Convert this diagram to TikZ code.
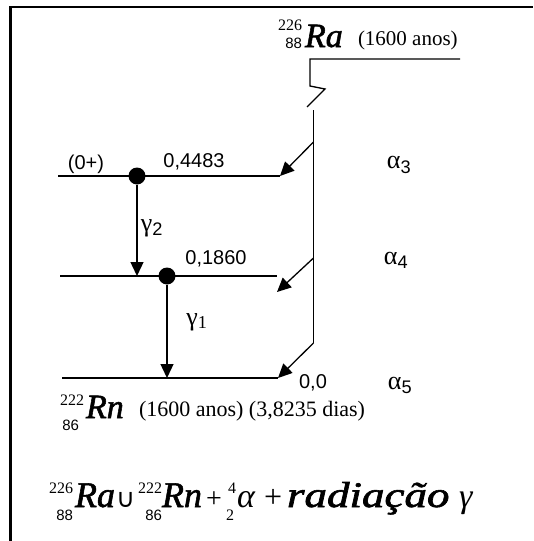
\documentclass[tikz,border=0pt]{standalone}
\usepackage{fontspec}
\setmainfont{Liberation Serif}
\newfontfamily\sansf{Liberation Sans}
\newfontfamily\djv{DejaVu Sans}
\newfontfamily\bif[ItalicFeatures={FakeBold=1.6}]{Liberation Serif}
\usetikzlibrary{arrows.meta}
\newcommand\fs[1]{\fontsize{#1}{#1}\selectfont}
\begin{document}
\begin{tikzpicture}[x=1pt,y=-1pt,
  ln/.style={line width=1.3pt},
  arr/.style={line width=1.3pt,-{Triangle[length=14pt,width=13pt]}},
  t/.style={inner sep=0pt,outer sep=0pt},
  sl/.style={t,font=\sansf\fs{20}},
  gr/.style={t,font=\fs{26}},
  big/.style={t,anchor=base west,font=\bif\itshape\fs{34}},
  up/.style={t,anchor=base east,font=\fs{16}},
  dn/.style={t,anchor=base east,font=\sansf\fs{15}},
  half/.style={t,anchor=base west,font=\fs{21}},
  eq/.style={t,anchor=base west,font=\bif\itshape\fs{36}},
  dotn/.style={circle,fill,inner sep=0pt,minimum size=17pt}]
\useasboundingbox (0,0) rectangle (533,541);
% frame
\coordinate (fb) at (10.3,541);
\coordinate (fr) at (533,6.8);
\draw[line width=2.6pt] (fb) |- (fr);

% Ra label
\node[up] (raA) at (302,30) {226};
\node[dn] (raZ) at (302,48) {88};
\node[big] (ra) at (305,47) {Ra};
\node[half] (rahl) at (358,45) {(1600 anos)};

% decay path
\coordinate (r0) at (460,59);
\coordinate (r1) at (310,59);
\coordinate (z0) at (310,86);
\coordinate (z1) at (325,89);
\coordinate (z2) at (307,107);
\coordinate (v0) at (313.5,110);
\coordinate (v3) at (313.5,142);
\coordinate (v4) at (313.5,258);
\coordinate (v5) at (313.5,343);
\draw[ln] (r0) -- (r1) -- (z0) -- (z1) -- (z2);
\draw[ln] (v0) -- (v5);

% levels
\coordinate (l3a) at (58,176);
\coordinate (l3b) at (280,176);
\coordinate (l4a) at (60,276);
\coordinate (l4b) at (277,276);
\coordinate (a4) at (277,292);
\coordinate (l5a) at (62,378);
\coordinate (l5b) at (278,378);
\draw[ln] (l3a) -- (l3b);
\draw[ln] (l4a) -- (l4b);
\draw[ln] (l5a) -- (l5b);
\draw[arr] (v3) -- (l3b);
\draw[arr] (v4) -- (a4);
\draw[arr] (v5) -- (l5b);

% gamma transitions
\node[dotn] (d1) at (137,176) {};
\node[dotn] (d2) at (167,276) {};
\coordinate (g2e) at (137,276);
\coordinate (g1e) at (167,378);
\draw[arr] (d1) -- (g2e);
\draw[arr] (d2) -- (g1e);

% labels
\node[sl] (zp) at (86,164) {(0+)};
\node[sl] (e3) at (194,162) {0,4483};
\node[sl] (e4) at (216,259) {0,1860};
\node[sl] (e5) at (313,383) {0,0};
\node[gr] (g2) at (152,228) {γ\textsubscript{\sansf 2}};
\node[gr] (g1) at (197,322) {γ\textsubscript{1}};
\node[gr] (al3) at (399,165) {α\textsubscript{\sansf 3}};
\node[gr] (al4) at (396,260) {α\textsubscript{\sansf 4}};
\node[gr] (al5) at (400,385) {α\textsubscript{\sansf 5}};

% Rn label
\node[up] (rnA) at (84,405) {222};
\node[dn] (rnZ) at (79,430) {86};
\node[big] (rn) at (86,418) {Rn};
\node[half,font=\fs{22}] (rnhl) at (139,416) {(1600 anos) (3,8235 dias)};

% equation
\node[up] (qA1) at (73,493) {226};
\node[dn] (qZ1) at (73,520) {88};
\node[eq] (qRa) at (75,507) {Ra};
\node[t,anchor=base west,font=\djv\fs{26}] (qcup) at (116,507) {∪};
\node[up] (qA2) at (162,493) {222};
\node[dn] (qZ2) at (162,520) {86};
\node[eq] (qRn) at (162,507) {Rn};
\node[t,anchor=base west,font=\fs{28}] (qp1) at (206,507) {+};
\node[t,anchor=base east,font=\fs{16}] (qA3) at (236,493) {4};
\node[t,anchor=base east,font=\fs{16}] (qZ3) at (234,520) {2};
\node[t,anchor=base west,font=\itshape\fs{34}] (qal) at (237,507) {α};
\node[t,anchor=base west,font=\fs{32}] (qp2) at (264,507) {+};
\node[eq] (qrad) at (287,507) {\scalebox{1.25}[1]{radiação}};
\node[t,anchor=base west,font=\itshape\fs{34}] (qg) at (459,507) {γ};
\end{tikzpicture}
\end{document}
